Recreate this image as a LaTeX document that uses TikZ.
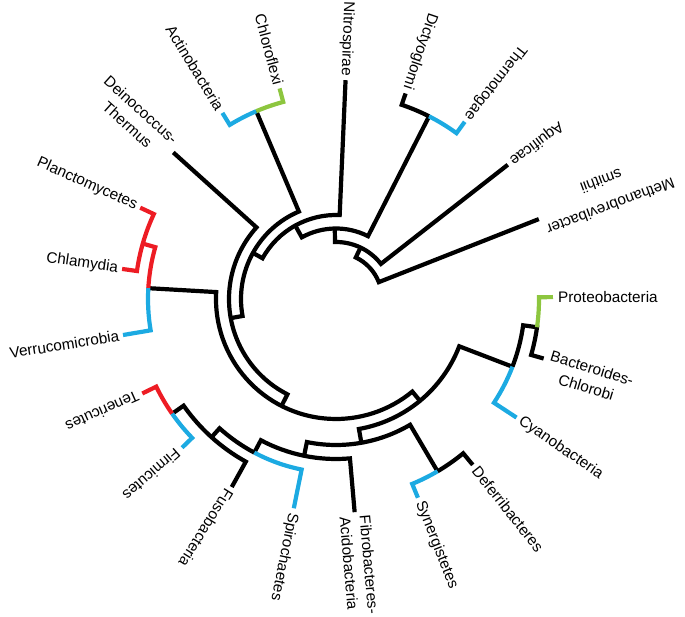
\documentclass[tikz,border=0pt]{standalone}
\usepackage{fontspec}
\setmainfont{Liberation Sans}
\definecolor{tblue}{RGB}{28,170,226}
\definecolor{tgreen}{RGB}{141,198,63}
\definecolor{tred}{RGB}{237,28,36}
\begin{document}
\begin{tikzpicture}[x=1pt,y=1pt,line join=miter,line cap=butt,
  blk/.style={line width=4.2pt,draw=black},
  blu/.style={line width=4.2pt,draw=tblue},
  grn/.style={line width=4.2pt,draw=tgreen},
  rd/.style={line width=4.2pt,draw=tred},
  lbl/.style={inner sep=0pt,font=\fontsize{15.3pt}{20pt}\selectfont}]
\useasboundingbox (0,0) rectangle (685,617);
\begin{scope}[shift={(336,318)}]
% leaf tips
\coordinate (methano) at (21.5:218);
\coordinate (aquificae) at (38:218);
\coordinate (thermo) at (54:219);
\coordinate (dictyo) at (71.3:217);
\coordinate (nitro) at (87.5:219);
\coordinate (chloro) at (105:218);
\coordinate (actino) at (121.4:218);
\coordinate (deino) at (138:219);
\coordinate (plancto) at (155:216);
\coordinate (chlamy) at (172:216);
\coordinate (verruco) at (189.6:216);
\coordinate (teneri) at (206:215.5);
\coordinate (firmi) at (224:214);
\coordinate (fuso) at (241:215);
\coordinate (spiro) at (258.6:213.5);
\coordinate (fibro) at (275:214);
\coordinate (syn) at (292.4:215);
\coordinate (defer) at (309.5:215);
\coordinate (cyano) at (326.7:216);
\coordinate (bactero) at (344:216);
\coordinate (proteo) at (360.5:217);
% internal nodes (junction points)
\coordinate (n1) at (64.5:57);
\coordinate (n2) at (91:70.5);
\coordinate (n3) at (119:84);
\coordinate (n4) at (151:95);
\coordinate (n5) at (190.3:107);
\coordinate (n6) at (243:120);
\coordinate (n7) at (309.5:132);
\coordinate (n8) at (280:146);
\coordinate (n9) at (258.5:160);
\coordinate (n10) at (242:174);
\coordinate (n11) at (228:186);
\coordinate (tf) at (215:200);
\coordinate (pvc) at (176.7:188);
\coordinate (pc) at (164:201);
\coordinate (cbp) at (339:189);
\coordinate (pb) at (352:203);
\coordinate (sd) at (300.5:200);
\coordinate (dt) at (63:205);
\coordinate (ac) at (113:204);
% backbone
\draw[blk] (methano) -- (21.5:46) arc[start angle=21.5,end angle=64.5,radius=46] -- (n1);
\draw[blk] (aquificae) -- (38:57) arc[start angle=38,end angle=91,radius=57] -- (n2);
\draw[blk] (dt) -- (63:70.5) arc[start angle=63,end angle=119,radius=70.5] -- (n3);
\draw[blk] (nitro) -- (87.5:84) arc[start angle=87.5,end angle=151,radius=84] -- (n4);
\draw[blk] (ac) -- (113:95) arc[start angle=113,end angle=190.3,radius=95] -- (n5);
\draw[blk] (deino) -- (138:107) arc[start angle=138,end angle=243,radius=107] -- (n6);
\draw[blk] (pvc) -- (176.7:120) arc[start angle=176.7,end angle=309.5,radius=120] -- (n7);
\draw[blk] (n8) -- (280:132) arc[start angle=280,end angle=339,radius=132] -- (cbp);
\draw[blk] (n9) -- (258.5:146) arc[start angle=258.5,end angle=300.5,radius=146] -- (sd);
\draw[blk] (n10) -- (242:160) arc[start angle=242,end angle=275,radius=160] -- (fibro);
\draw[blk] (n11) -- (228:174) arc[start angle=228,end angle=242,radius=174];
\draw[blk] (tf) -- (215:186) arc[start angle=215,end angle=241,radius=186] -- (fuso);
\draw[blk] (dt) arc[start angle=63,end angle=71.3,radius=205] -- (dictyo);
\draw[blk] (sd) arc[start angle=300.5,end angle=309.5,radius=200] -- (defer);
\draw[blk] (cbp) arc[start angle=339,end angle=352,radius=189] -- (pb)
  arc[start angle=352,end angle=344,radius=203] -- (bactero);
% coloured lineages
\draw[blu] (n10) arc[start angle=242,end angle=258.6,radius=174] -- (spiro);
\draw[rd] (tf) arc[start angle=215,end angle=206,radius=200] -- (teneri);
\draw[blu] (tf) arc[start angle=215,end angle=224,radius=200] -- (firmi);
\draw[rd] (pvc) arc[start angle=176.7,end angle=164,radius=188] -- (pc);
\draw[rd] (plancto) -- (155:201) arc[start angle=155,end angle=172,radius=201] -- (chlamy);
\draw[blu] (pvc) arc[start angle=176.7,end angle=189.6,radius=188] -- (verruco);
\draw[blu] (dt) arc[start angle=63,end angle=54,radius=205] -- (thermo);
\draw[blu] (ac) arc[start angle=113,end angle=121.4,radius=204] -- (actino);
\draw[grn] (ac) arc[start angle=113,end angle=105,radius=204] -- (chloro);
\draw[blu] (sd) arc[start angle=300.5,end angle=292.4,radius=200] -- (syn);
\draw[blu] (cbp) arc[start angle=339,end angle=326.7,radius=189] -- (cyano);
\draw[grn] (pb) arc[start angle=352,end angle=360.5,radius=203] -- (proteo);
% labels
\node[lbl,rotate=200.5,anchor=east,align=center] (lmethano) at (21.5:222) {Methanobrevibacter\\[7pt]smithii};
\node[lbl,rotate=217,anchor=east] (laquificae) at (38:222) {Aquificae};
\node[lbl,rotate=232,anchor=east] (lthermo) at (54:223) {Thermotogae};
\node[lbl,rotate=251.3,anchor=east] (ldictyo) at (71.3:222) {Dictyoglomi};
\node[lbl,rotate=268,anchor=east] (lnitro) at (87.5:223) {Nitrospirae};
\node[lbl,rotate=285,anchor=east] (lchloro) at (105:222) {Chloroflexi};
\node[lbl,rotate=301.4,anchor=east] (lactino) at (121.4:222) {Actinobacteria};
\node[lbl,rotate=318,anchor=east,align=center] (ldeino) at (138:225) {Deinococcus-\\Thermus};
\node[lbl,rotate=336,anchor=east] (lplancto) at (155:220) {Planctomycetes};
\node[lbl,rotate=352,anchor=east] (lchlamy) at (172:220) {Chlamydia};
\node[lbl,rotate=9,anchor=east] (lverruco) at (189.6:220) {Verrucomicrobia};
\node[lbl,rotate=204,anchor=west] (lteneri) at (206:220) {Tenericutes};
\node[lbl,rotate=221,anchor=west] (lfirmi) at (224:219) {Firmicutes};
\node[lbl,rotate=238,anchor=west] (lfuso) at (241:219) {Fusobacteria};
\node[lbl,rotate=258.6,anchor=west] (lspiro) at (258.6:218) {Spirochaetes};
\node[lbl,rotate=275,anchor=west,align=left] (lfibro) at (275:218) {Fibrobacteres-\\Acidobacteria};
\node[lbl,rotate=291.5,anchor=west] (lsyn) at (292.4:219) {Synergistetes};
\node[lbl,rotate=308.5,anchor=west] (ldefer) at (309.5:219) {Deferribacteres};
\node[lbl,rotate=325.5,anchor=west] (lcyano) at (326.7:220) {Cyanobacteria};
\node[lbl,rotate=343,anchor=west,align=center,yshift=-5pt] (lbactero) at (344:222) {Bacteroides-\\Chlorobi};
\node[lbl,rotate=0,anchor=west] (lproteo) at (360.5:222) {Proteobacteria};
\end{scope}
\end{tikzpicture}
\end{document}
